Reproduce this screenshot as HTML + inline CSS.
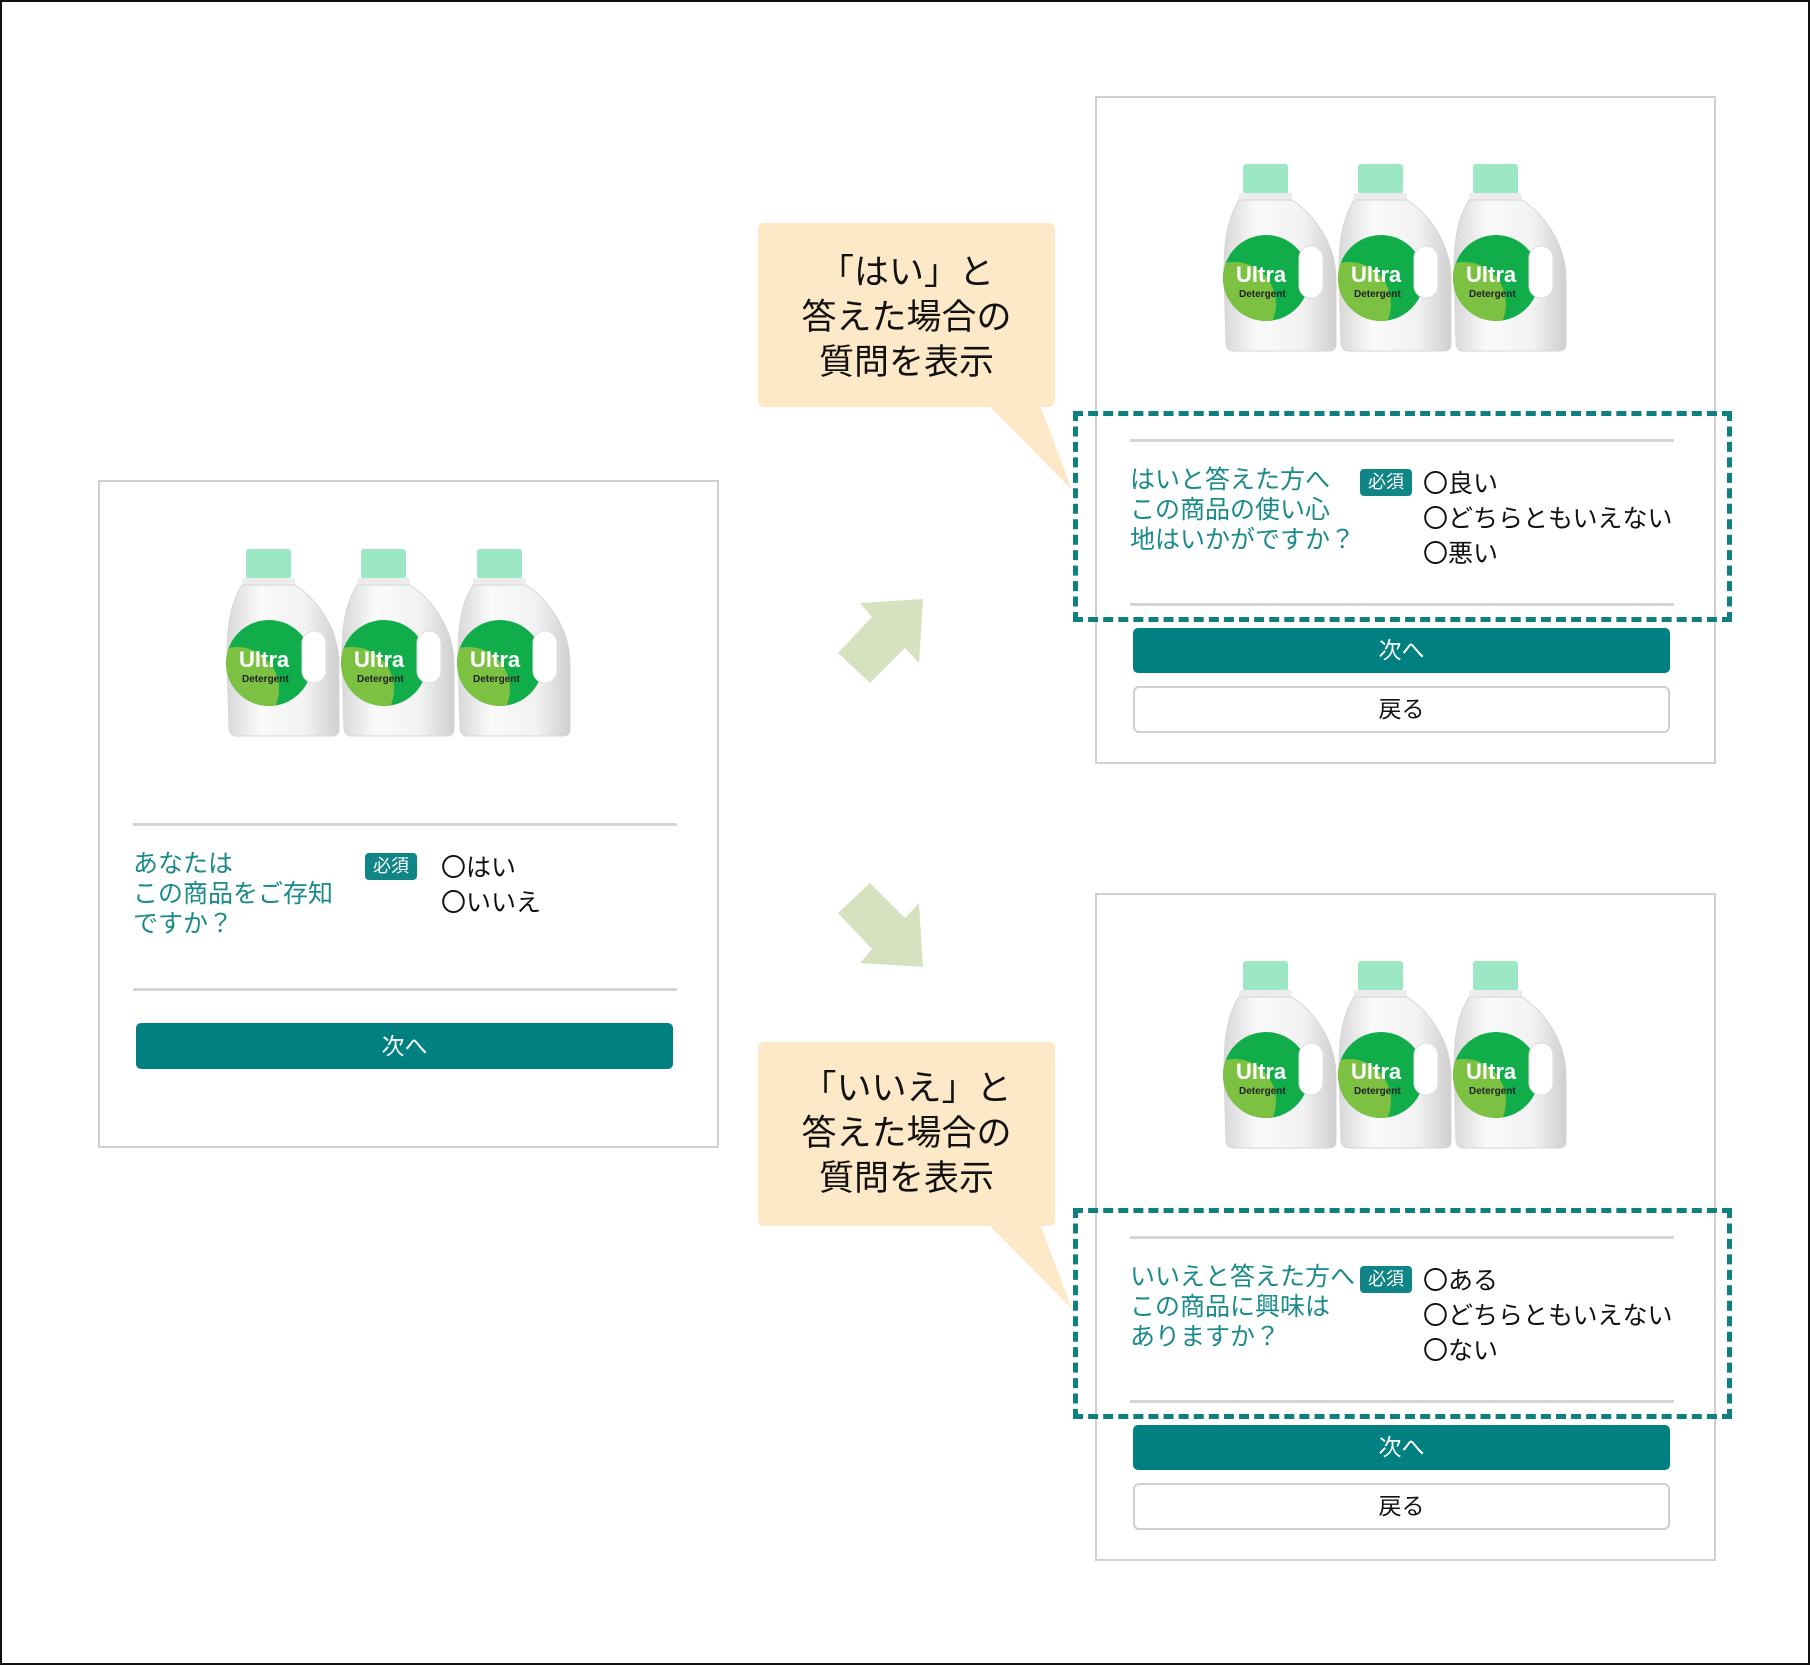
<!DOCTYPE html>
<html><head><meta charset="utf-8"><style>
body{margin:0;width:1810px;height:1665px;position:relative;background:#fff;font-family:"Liberation Sans","Noto Sans CJK JP",sans-serif;overflow:hidden}
.a{position:absolute}
.panel{position:absolute;border:2px solid #d0d0d0;box-sizing:border-box;background:#fff}
.hr{position:absolute;height:3px;background:#d4d4d4}
.q{position:absolute;color:#1a8a8a;font-size:25px;line-height:30px;white-space:nowrap}
.badge{position:absolute;background:#0f8585;color:#fff;font-size:18px;border-radius:4px;text-align:center;line-height:27px}
.opt{position:absolute;color:#111;font-size:25px;line-height:35px;white-space:nowrap}
.btn{position:absolute;background:#008080;color:#fff;font-size:23px;text-align:center;border-radius:5px}
.back{position:absolute;background:#fff;border:2px solid #cfcfcf;box-sizing:border-box;color:#111;font-size:23px;text-align:center;border-radius:6px}
.dash{position:absolute;border:5px dashed #0f8080;box-sizing:border-box}
.callout{position:absolute;background:#fde9c8;border-radius:6px}
.ct{position:absolute;width:297px;text-align:center;font-size:35px;line-height:45px;color:#111}
</style></head><body>
<div class="a" style="left:0;top:0;width:1810px;height:1665px;border:2px solid #111;box-sizing:border-box"></div>

<svg width="0" height="0" style="position:absolute">
<defs>
<linearGradient id="bg" x1="0" x2="1"><stop offset="0" stop-color="#d8d8d8"/><stop offset="0.3" stop-color="#fafafa"/><stop offset="0.7" stop-color="#f2f2f2"/><stop offset="1" stop-color="#cfcfcf"/></linearGradient>
<clipPath id="lc"><circle cx="42" cy="114" r="43"/></clipPath>
<g id="bottle">
<rect x="19" y="0" width="45" height="30" rx="3" fill="#9de8c4"/>
<rect x="15" y="29" width="53" height="8" rx="2" fill="#ececec"/>
<path d="M15 36 C0 60 0 90 0 110 L2 180 Q3 187 10 187 L105 187 Q112 187 112 180 L112 115 C112 80 90 50 68 36 Z" fill="url(#bg)" stroke="#d6d6d6"/>
<circle cx="42" cy="114" r="43" fill="#10ad4a"/>
<g clip-path="url(#lc)"><circle cx="10" cy="140" r="42" fill="#7dc142"/></g>
<rect x="75" y="82" width="24" height="52" rx="12" fill="#fff" stroke="#ddd"/>
<text x="12" y="118" font-family="Liberation Sans" font-weight="bold" font-size="22" fill="#fff">Ultra</text>
<text x="15" y="133" font-family="Liberation Sans" font-weight="bold" font-size="10" fill="#222">Detergent</text>
</g>
</defs></svg>

<div class="panel" style="left:98px;top:480px;width:621px;height:668px"></div>
<svg class="a" style="left:220px;top:545px" width="360" height="195"><use href="#bottle" x="7" y="4"/><use href="#bottle" x="122" y="4"/><use href="#bottle" x="238" y="4"/></svg>
<div class="hr" style="left:133px;top:823px;width:544px"></div>
<div class="q" style="left:133px;top:849px">あなたは<br>この商品をご存知<br>ですか？</div>
<div class="badge" style="left:365px;top:853px;width:52px">必須</div>
<div class="opt" style="left:441px;top:851px">〇はい<br>〇いいえ</div>
<div class="hr" style="left:133px;top:988px;width:544px"></div>
<div class="btn" style="left:136px;top:1023px;width:537px;height:46px;line-height:46px">次へ</div>

<svg class="a" style="left:0;top:0" width="1810" height="1665">
<polygon points="923,599 860,603 872,617 838,653 870,683 905,648 919,663" fill="#d6e2bf"/>
<polygon points="923,967 860,963 872,949 838,913 870,883 905,918 919,903" fill="#d6e2bf"/>
<polygon points="988,405 1040,405 1072,490" fill="#fde9c8"/>
<polygon points="988,1224 1040,1224 1072,1309" fill="#fde9c8"/>
</svg>
<div class="callout" style="left:758px;top:223px;width:297px;height:184px"></div>
<div class="ct" style="left:758px;top:250px">「はい」と<br>答えた場合の<br>質問を表示</div>
<div class="callout" style="left:758px;top:1042px;width:297px;height:184px"></div>
<div class="ct" style="left:758px;top:1066px">「いいえ」と<br>答えた場合の<br>質問を表示</div>

<div class="panel" style="left:1095px;top:96px;width:621px;height:668px"></div>
<svg class="a" style="left:1220px;top:161px" width="360" height="195"><use href="#bottle" x="4" y="3"/><use href="#bottle" x="119" y="3"/><use href="#bottle" x="234" y="3"/></svg>
<div class="hr" style="left:1130px;top:439px;width:544px"></div>
<div class="q" style="left:1130px;top:465px">はいと答えた方へ<br>この商品の使い心<br>地はいかがですか？</div>
<div class="badge" style="left:1360px;top:469px;width:52px">必須</div>
<div class="opt" style="left:1423px;top:467px">〇良い<br>〇どちらともいえない<br>〇悪い</div>
<div class="hr" style="left:1130px;top:603px;width:544px"></div>
<div class="dash" style="left:1073px;top:411px;width:659px;height:211px"></div>
<div class="btn" style="left:1133px;top:628px;width:537px;height:45px;line-height:45px">次へ</div>
<div class="back" style="left:1133px;top:686px;width:537px;height:47px;line-height:43px">戻る</div>

<div class="panel" style="left:1095px;top:893px;width:621px;height:668px"></div>
<svg class="a" style="left:1220px;top:958px" width="360" height="195"><use href="#bottle" x="4" y="3"/><use href="#bottle" x="119" y="3"/><use href="#bottle" x="234" y="3"/></svg>
<div class="hr" style="left:1130px;top:1236px;width:544px"></div>
<div class="q" style="left:1130px;top:1262px">いいえと答えた方へ<br>この商品に興味は<br>ありますか？</div>
<div class="badge" style="left:1360px;top:1266px;width:52px">必須</div>
<div class="opt" style="left:1423px;top:1264px">〇ある<br>〇どちらともいえない<br>〇ない</div>
<div class="hr" style="left:1130px;top:1400px;width:544px"></div>
<div class="dash" style="left:1073px;top:1208px;width:659px;height:211px"></div>
<div class="btn" style="left:1133px;top:1425px;width:537px;height:45px;line-height:45px">次へ</div>
<div class="back" style="left:1133px;top:1483px;width:537px;height:47px;line-height:43px">戻る</div>
</body></html>
